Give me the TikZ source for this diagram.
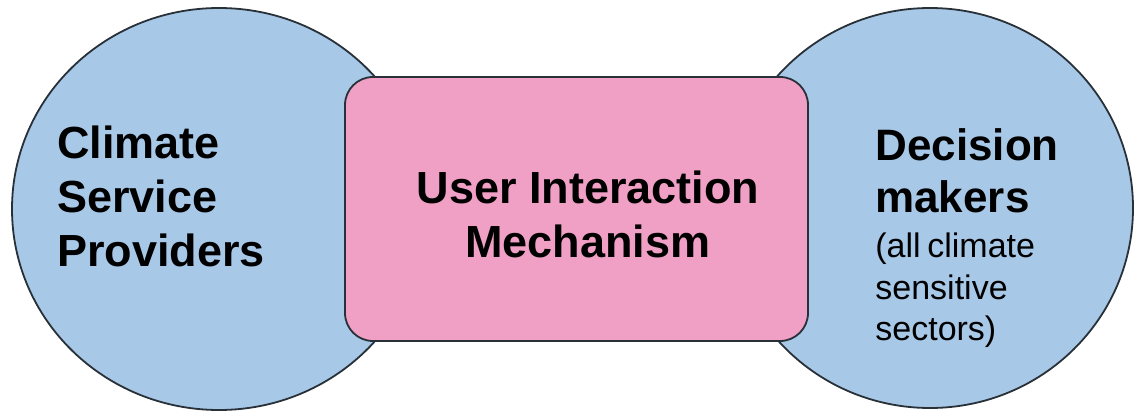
\documentclass[tikz,border=0pt]{standalone}
\usepackage{fontspec}
\setmainfont{Liberation Sans}
\usetikzlibrary{shapes.geometric}
\definecolor{partyblue}{RGB}{168,200,232}
\definecolor{mechpink}{RGB}{240,160,197}
\definecolor{edgegray}{RGB}{40,48,56}
\tikzset{
  party/.style={ellipse, draw=edgegray, line width=0.9pt, fill=partyblue, inner sep=0pt},
  mechbox/.style={rectangle, rounded corners=14pt, draw=edgegray, line width=0.9pt, fill=mechpink, inner sep=0pt},
  bigtext/.style={font=\fontsize{22.5}{27}\selectfont\bfseries, inner sep=0pt}
}

\begin{document}
\begin{tikzpicture}[x=0.5pt,y=-0.5pt]
\useasboundingbox (0,0) rectangle (1135,412);
% the two sides
\node [party, minimum width=207pt, minimum height=201pt] (providers) at (219,209) {};
\node [party, minimum width=203pt, minimum height=200pt] (deciders) at (930,208) {};
% the link in between
\node [mechbox, minimum width=231.5pt, minimum height=132pt] (mechanism) at (576.5,209) {};
% labels
\node [bigtext, align=left, anchor=west] (providerstext) at (57,196.5) {Climate\\Service\\Providers};
\node [bigtext, align=center] (mechanismtext) at (588,214) {User Interaction\\Mechanism};
\node [anchor=west, text width=95pt, align=left, inner sep=0pt] (deciderstext) at (875,238)
  {{\fontsize{22}{26}\selectfont\bfseries Decision\\makers\par}\vskip2pt%
   {\fontsize{17}{20.8}\selectfont (all climate\\sensitive\\sectors)\par}};
\end{tikzpicture}
\end{document}
